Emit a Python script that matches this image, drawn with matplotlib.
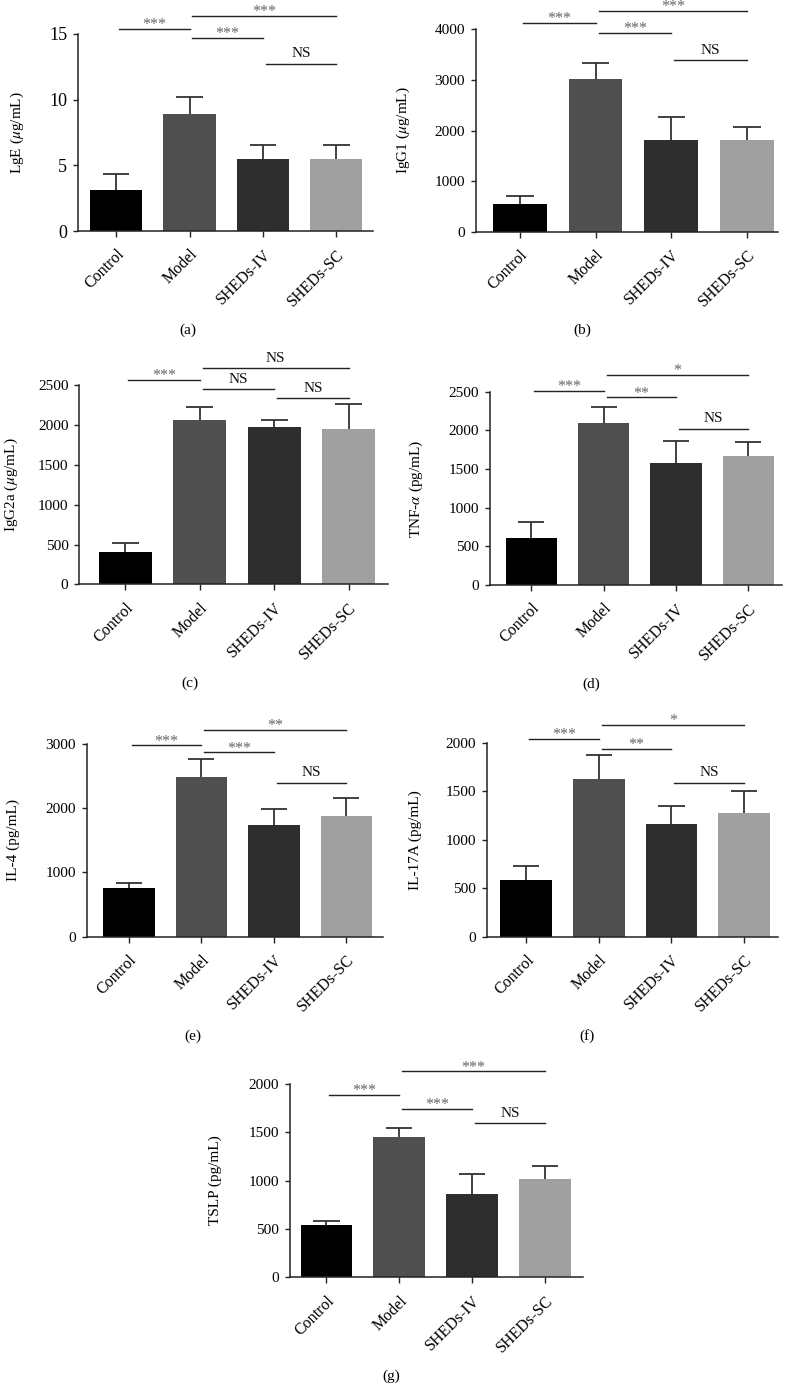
import numpy as np
import matplotlib
matplotlib.use("Agg")
import matplotlib.pyplot as plt
import matplotlib.transforms as mtransforms

plt.rcParams['font.family'] = ['Liberation Serif', 'DejaVu Serif']
plt.rcParams['mathtext.fontset'] = 'stix'

categories = ['Control', 'Model', 'SHEDs-IV', 'SHEDs-SC']
bar_colors = ['#000000', '#4f4f4f', '#2e2e2e', '#a0a0a0']

# panel data: means and upper SD
lge_mean = [3.12, 8.93, 5.46, 5.48]
lge_sd = [1.24, 1.30, 1.11, 1.10]
igg1_mean = [547, 3023, 1806, 1810]
igg1_sd = [164, 311, 454, 253]
igg2a_mean = [409, 2064, 1972, 1947]
igg2a_sd = [113, 167, 92, 318]
tnf_mean = [611, 2091, 1574, 1664]
tnf_sd = [200, 207, 292, 189]
il4_mean = [752, 2477, 1740, 1880]
il4_sd = [78, 285, 245, 280]
il17_mean = [586, 1632, 1167, 1281]
il17_sd = [144, 248, 186, 227]
tslp_mean = [543, 1452, 857, 1019]
tslp_sd = [42, 87, 213, 128]

# significance: (group i, group j, bracket height, label)
lge_sig = [(0, 1, 15.4, '***'), (1, 2, 14.7, '***'), (1, 3, 16.4, '***'), (2, 3, 12.74, 'NS')]
igg1_sig = [(0, 1, 4124, '***'), (1, 2, 3933, '***'), (1, 3, 4361, '***'), (2, 3, 3393, 'NS')]
igg2a_sig = [(0, 1, 2563, '***'), (1, 2, 2453, 'NS'), (1, 3, 2717, 'NS'), (2, 3, 2336, 'NS')]
tnf_sig = [(0, 1, 2509, '***'), (1, 2, 2427, '**'), (1, 3, 2719, '*'), (2, 3, 2021, 'NS')]
il4_sig = [(0, 1, 2974, '***'), (1, 2, 2865, '***'), (1, 3, 3217, '**'), (2, 3, 2393, 'NS')]
il17_sig = [(0, 1, 2045, '***'), (1, 2, 1942, '**'), (1, 3, 2190, '*'), (2, 3, 1591, 'NS')]
tslp_sig = [(0, 1, 1886, '***'), (1, 2, 1742, '***'), (1, 3, 2127, '***'), (2, 3, 1591, 'NS')]

W, H = 787, 1384
fig = plt.figure(figsize=(W / 100, H / 100), dpi=100)

panels = [
    # (left, right, top, bottom px), xlim, ylim, ticks, tick fs, ylabel, label-right-px, mean, sd, sig, tag, tag pos
    ((78, 373, 34, 231), (-0.52, 3.5), (0, 15), [0, 5, 10, 15], 13, r'LgE ($\mu$g/mL)', 26.5,
     lge_mean, lge_sd, lge_sig, '(a)', (188, 330)),
    ((476, 778, 29.3, 231.7), (-0.58, 3.41), (0, 4000), [0, 1000, 2000, 3000, 4000], 11, r'IgG1 ($\mu$g/mL)', 412,
     igg1_mean, igg1_sd, igg1_sig, '(b)', (582, 330)),
    ((79.3, 388, 385.3, 584.3), (-0.62, 3.53), (0, 2500), [0, 500, 1000, 1500, 2000, 2500], 11, r'IgG2a ($\mu$g/mL)', 20,
     igg2a_mean, igg2a_sd, igg2a_sig, '(c)', (190, 683)),
    ((490, 781.7, 391.7, 585), (-0.57, 3.46), (0, 2500), [0, 500, 1000, 1500, 2000, 2500], 11, r'TNF-$\alpha$ (pg/mL)', 425,
     tnf_mean, tnf_sd, tnf_sig, '(d)', (591, 684)),
    ((86.7, 382.7, 743.7, 936.7), (-0.58, 3.5), (0, 3000), [0, 1000, 2000, 3000], 11, 'IL-4 (pg/mL)', 20,
     il4_mean, il4_sd, il4_sig, '(e)', (193, 1036)),
    ((486.7, 777.7, 743, 936.7), (-0.54, 3.46), (0, 2000), [0, 500, 1000, 1500, 2000], 11, 'IL-17A (pg/mL)', 422,
     il17_mean, il17_sd, il17_sig, '(f)', (587, 1036)),
    ((290, 582.7, 1083.7, 1277.3), (-0.50, 3.52), (0, 2000), [0, 500, 1000, 1500, 2000], 11, 'TSLP (pg/mL)', 222,
     tslp_mean, tslp_sd, tslp_sig, '(g)', (391, 1376)),
]

fs = 11
ink = '#222222'
x = np.arange(len(categories))
label_shift = mtransforms.ScaledTranslation(7.5 / 100, 0, fig.dpi_scale_trans)

for (l, r, t, b), xlim, ylim, yticks, tfs, ylabel, lab_r, mean, sd, sig, tag, tagpos in panels:
    ax = fig.add_axes([l / W, 1 - b / H, (r - l) / W, (b - t) / H])
    ax.bar(x, mean, width=0.71, color=bar_colors, edgecolor='none', zorder=2)
    top = np.array(mean) + np.array(sd)
    ax.vlines(x, mean, top, colors='#333333', lw=1.3, zorder=1)
    ax.hlines(top, x - 0.18, x + 0.18, colors='#333333', lw=1.3, zorder=1)
    ax.set_xlim(*xlim)
    ax.set_ylim(*ylim)
    ax.set_yticks(yticks)
    ax.set_xticks(x)
    ax.set_xticklabels(categories, rotation=45, ha='right', va='top',
                       rotation_mode='anchor', fontsize=11.5)
    for tl in ax.get_xticklabels():
        tl.set_transform(tl.get_transform() + label_shift)
    ax.tick_params(axis='y', labelsize=tfs, length=3.8, width=1, color=ink, pad=4)
    ax.tick_params(axis='x', length=4.3, width=1, color=ink, pad=6.8)
    for s in ['top', 'right']:
        ax.spines[s].set_visible(False)
    for s in ['left', 'bottom']:
        ax.spines[s].set_color(ink)
        ax.spines[s].set_linewidth(1.1)
    ax.set_ylabel(ylabel, fontsize=fs)
    ax.yaxis.set_label_coords((lab_r - l) / (r - l), 0.5)
    for i, j, yv, lab in sig:
        ax.plot([i + 0.04, j], [yv, yv], color=ink, lw=1, clip_on=False)
        if lab == 'NS':
            ax.annotate(lab, xy=((i + j) / 2 + 0.02, yv), xytext=(0, 2.4), textcoords='offset points',
                        ha='center', va='bottom', fontsize=fs, color='#111111', annotation_clip=False)
        else:
            ax.annotate(lab, xy=((i + j) / 2 + 0.02, yv), xytext=(0, -3), textcoords='offset points',
                        ha='center', va='bottom', fontsize=11.5, color='#666666', annotation_clip=False)
    fig.text(tagpos[0] / W, 1 - tagpos[1] / H, tag, ha='center', va='center', fontsize=11)

fig.savefig('out.png', dpi=100)
